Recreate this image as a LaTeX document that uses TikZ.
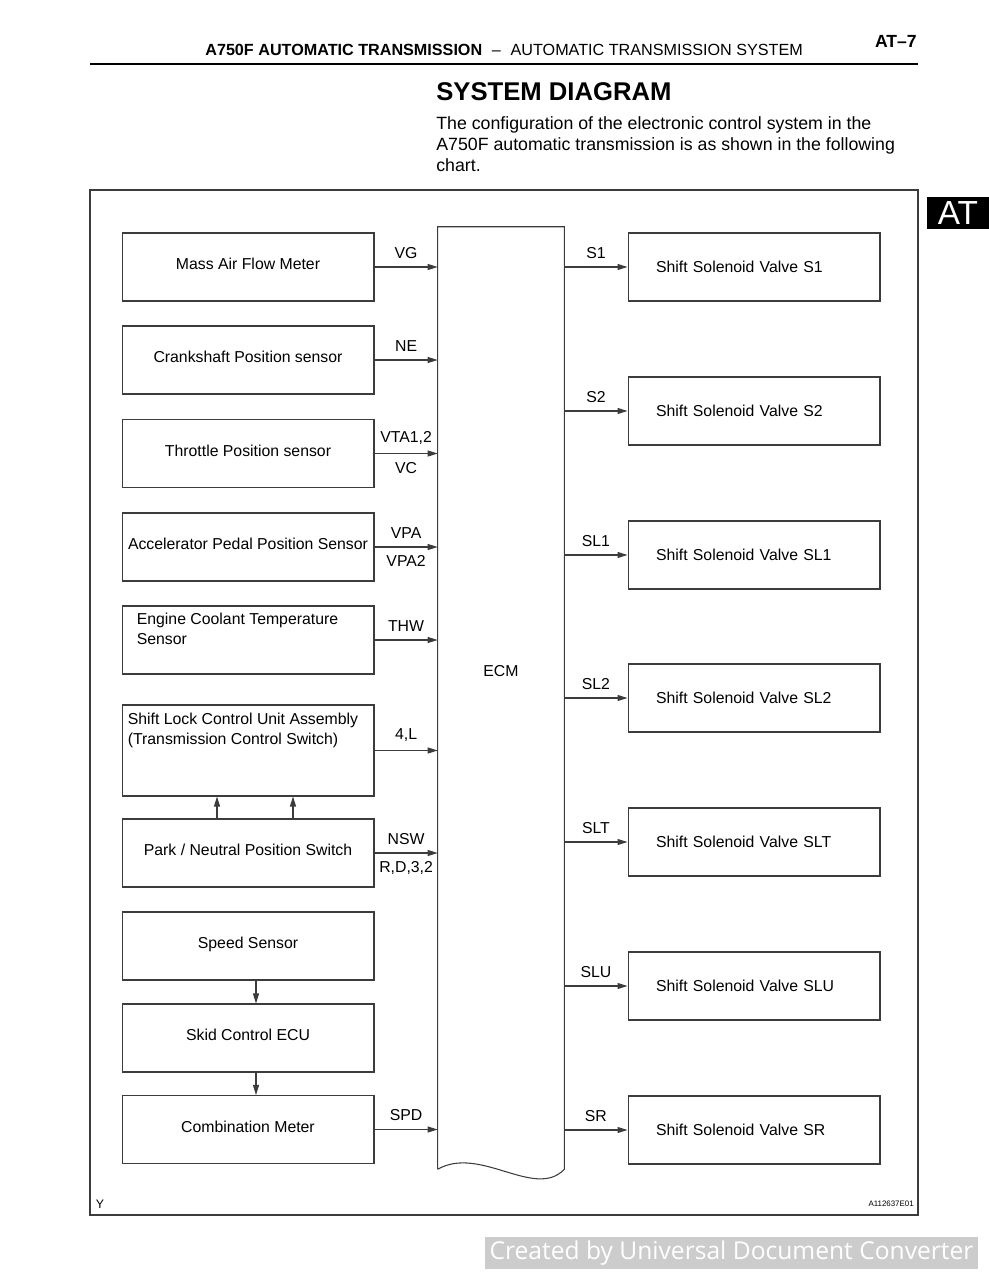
\documentclass[tikz,border=0pt]{standalone}
\usepackage{fontspec}
\setmainfont{Liberation Sans}
\newfontfamily\wmfont{Open Sans}
\usetikzlibrary{positioning,arrows.meta}
\definecolor{lineclr}{RGB}{60,60,60}
\definecolor{wmgray}{RGB}{204,204,204}

\begin{document}
\begin{tikzpicture}[x=0.02cm,y=-0.02cm,
font=\fontsize{9}{11.3}\selectfont,
box/.style={draw=lineclr,line width=0.6pt,rectangle,minimum width=5.04cm,minimum height=1.36cm,inner sep=0pt},
sensor/.style={box,text height=6.6pt,text depth=3.4pt},
valve/.style={box,text width=3.92cm,align=left},
sig/.style={draw=lineclr,line width=0.6pt,-{Triangle[length=2mm,width=1.2mm]}},
tag/.style={inner sep=4.6pt}]
\useasboundingbox (0,0) rectangle (989,1280);

\node (hdr) [anchor=base west,inner sep=0pt,font=\fontsize{9.2}{11}\selectfont] at (205,56)
    {\textbf{A750F AUTOMATIC TRANSMISSION}\hspace{0.6em}–\hspace{0.6em}AUTOMATIC TRANSMISSION SYSTEM};
\node (pgno) [anchor=base east,inner sep=0pt,font=\bfseries\fontsize{10}{12}\selectfont] at (917,48) {AT–7};
\draw[line width=1.2pt] (90,64) -- (918,64);
\node (ttl) [anchor=base west,inner sep=0pt,font=\bfseries\fontsize{14.6}{17}\selectfont] at (436,101) {SYSTEM DIAGRAM};
\node (intro) [anchor=north west,inner sep=0pt,align=left,font=\fontsize{10.1}{11.9}\selectfont] at (436,116)
    {The configuration of the electronic control system in the\\
     A750F automatic transmission is as shown in the following\\
     chart.};
\node (attab) [fill=black,text=white,minimum width=1.24cm,minimum height=0.64cm,inner sep=0pt,font=\fontsize{19}{20}\selectfont] at (958,213) {AT};

\draw[lineclr,line width=0.6pt] (90,190) rectangle (918,1215);

\node (maf) [sensor] at (248,267) {Mass Air Flow Meter};
\node (ckp) [sensor] at (248,360) {Crankshaft Position sensor};
\node (tps) [sensor] at (248,453.5) {Throttle Position sensor};
\node (app) [sensor] at (248,547) {Accelerator Pedal Position Sensor};
\node (ect) [box,
    label={[anchor=north west,align=left,inner sep=0pt,xshift=0.3cm,yshift=-0.14cm]north west:Engine Coolant Temperature\\Sensor}] at (248,640) {};
\node (slk) [box,minimum height=1.82cm,
    label={[anchor=north west,align=left,inner sep=0pt,xshift=0.12cm,yshift=-0.16cm]north west:Shift Lock Control Unit Assembly\\(Transmission Control Switch)}] at (248,750.5) {};
\node (pnp) [sensor] at (248,853) {Park / Neutral Position Switch};
\node (spd) [sensor] at (248,946) {Speed Sensor};
\node (skid) [sensor] at (248,1038) {Skid Control ECU};
\node (meter) [sensor] at (248,1129.5) {Combination Meter};

\node (ecm) [minimum width=2.52cm,minimum height=18.84cm,inner sep=0pt] at (501,698) {};
\node (ecmlbl) at (501,671) {ECM};
\draw[lineclr,line width=0.6pt] (ecm.south west) -- (ecm.north west) -- (ecm.north east) -- (ecm.south east)
    .. controls (535,1200) and (480,1145) .. (ecm.south west);

\node (s1) [valve] at (754,267) {Shift Solenoid Valve S1};
\node (s2) [valve] at (754,411) {Shift Solenoid Valve S2};
\node (sl1) [valve] at (754,555) {Shift Solenoid Valve SL1};
\node (sl2) [valve] at (754,698) {Shift Solenoid Valve SL2};
\node (slt) [valve] at (754,842) {Shift Solenoid Valve SLT};
\node (slu) [valve] at (754,986) {Shift Solenoid Valve SLU};
\node (sr) [valve] at (754,1130) {Shift Solenoid Valve SR};

\draw[sig] (maf) -- (maf -| ecm.west) node[tag,midway,above] {VG};
\draw[sig] (ckp) -- (ckp -| ecm.west) node[tag,midway,above] {NE};
\draw[sig] (tps) -- (tps -| ecm.west) node[tag,midway,above] {VTA1,2} node[tag,midway,below] {VC};
\draw[sig] (app) -- (app -| ecm.west) node[tag,midway,above] {VPA} node[tag,midway,below] {VPA2};
\draw[sig] (ect) -- (ect -| ecm.west) node[tag,midway,above] {THW};
\draw[sig] (slk) -- (slk -| ecm.west) node[tag,midway,above] {4,L};
\draw[sig] (pnp) -- (pnp -| ecm.west) node[tag,midway,above] {NSW} node[tag,midway,below] {R,D,3,2};
\draw[sig] (meter) -- (meter -| ecm.west) node[tag,midway,above] {SPD};

\draw[sig] ([xshift=-0.62cm]pnp.north) -- ([xshift=-0.62cm]slk.south);
\draw[sig] ([xshift=0.9cm]pnp.north) -- ([xshift=0.9cm]slk.south);
\draw[sig] ([xshift=0.16cm]spd.south) -- ([xshift=0.16cm]skid.north);
\draw[sig] ([xshift=0.16cm]skid.south) -- ([xshift=0.16cm]meter.north);

\draw[sig] (s1 -| ecm.east) -- (s1) node[tag,midway,above] {S1};
\draw[sig] (s2 -| ecm.east) -- (s2) node[tag,midway,above] {S2};
\draw[sig] (sl1 -| ecm.east) -- (sl1) node[tag,midway,above] {SL1};
\draw[sig] (sl2 -| ecm.east) -- (sl2) node[tag,midway,above] {SL2};
\draw[sig] (slt -| ecm.east) -- (slt) node[tag,midway,above] {SLT};
\draw[sig] (slu -| ecm.east) -- (slu) node[tag,midway,above] {SLU};
\draw[sig] (sr -| ecm.east) -- (sr) node[tag,midway,above] {SR};

\node (figy) [font=\fontsize{7}{8}\selectfont] at (100,1204) {Y};
\node (figid) [anchor=east,inner sep=0pt,font=\fontsize{4.5}{5}\selectfont] at (914,1204) {A112637E01};

\node (wm) [fill=wmgray,text=white,minimum width=9.86cm,minimum height=0.64cm,inner sep=0pt,font=\wmfont\fontsize{14}{15}\selectfont] at (731.5,1253) {Created by Universal Document Converter};
\end{tikzpicture}
\end{document}
